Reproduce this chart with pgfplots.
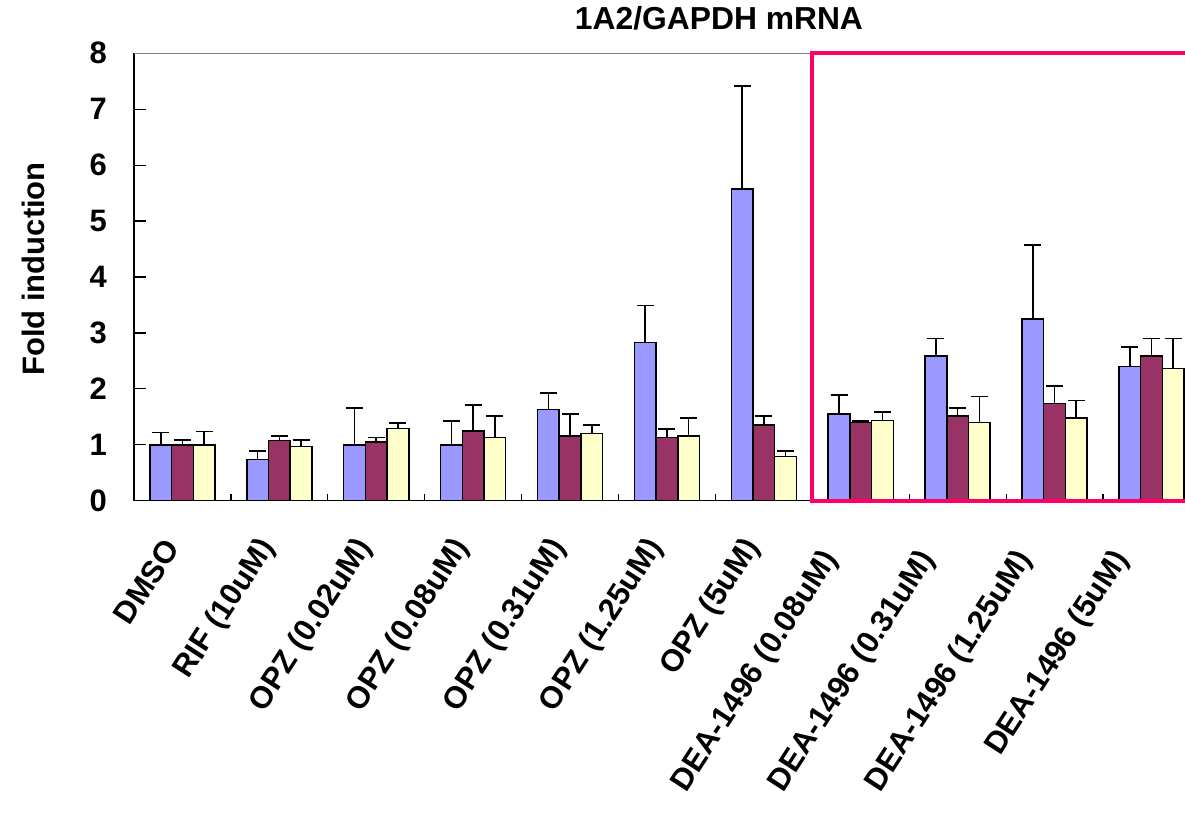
\documentclass[border=0pt]{standalone}
\usepackage{pgfplots}
\pgfplotsset{compat=1.18}
\usepackage{pgfplotstable}
\usepackage{fontspec}
\setmainfont{Liberation Sans}
\definecolor{cblue}{HTML}{9999FF}
\definecolor{cred}{HTML}{993366}
\definecolor{cyel}{HTML}{FFFFCC}
\definecolor{cpink}{HTML}{FF0066}

\pgfplotstableread{
x   b     be    r     re    y     ye
0   1.00  0.22  1.00  0.08  1.00  0.24
1   0.74  0.15  1.08  0.08  0.97  0.11
2   1.00  0.66  1.05  0.08  1.29  0.10
3   1.00  0.43  1.25  0.46  1.13  0.38
4   1.63  0.30  1.16  0.39  1.20  0.15
5   2.83  0.66  1.13  0.15  1.16  0.32
6   5.57  1.85  1.35  0.16  0.79  0.10
7   1.55  0.34  1.40  0.02  1.43  0.16
8   2.59  0.31  1.515 0.145 1.395 0.465
9   3.25  1.32  1.74  0.31  1.48  0.31
10  2.40  0.35  2.59  0.31  2.36  0.54
}\datatable

\begin{document}
\begin{tikzpicture}
\begin{axis}[
  at={(0,0)}, anchor=south west,
  scale only axis, width=525.5pt, height=223.7pt,
  xmin=-0.5, xmax=10.346, ymin=0, ymax=8,
  axis x line*=bottom, axis y line*=left,
  axis line style={-, black, line width=0.6pt},
  clip mode=individual,
  ybar=0pt, bar width=10.85pt,
  tick align=inside,
  ytick={0,1,...,8},
  major tick length=6pt,
  tick style={black, line width=0.6pt},
  xtick={0,1,...,6},
  xticklabels={DMSO,RIF (10uM),OPZ (0.02uM),OPZ (0.08uM),OPZ (0.31uM),OPZ (1.25uM),OPZ (5uM)},
  xtick style={/pgfplots/major tick length=0pt},
  minor xtick={0.5,1.5,...,9.5},
  minor tick length=3.5pt,
  extra x ticks={7,8,9,10},
  extra x tick labels={DEA-1496 (0.08uM),DEA-1496 (0.31uM),DEA-1496 (1.25uM),DEA-1496 (5uM)},
  extra x tick style={major tick length=0pt, tick label style={xshift=-9.2pt, yshift=-6pt}},
  /pgf/number format/assume math mode=true,
  xticklabel style={font=\fontsize{15.5}{18}\selectfont\bfseries, xshift=-3.5pt, yshift=-18pt, rotate=57, anchor=east},
  yticklabel style={font=\fontsize{15.5}{18}\selectfont\bfseries, xshift=-10pt},
  ylabel={Fold induction},
  ylabel style={font=\fontsize{15.5}{18}\selectfont\bfseries, at={(-0.0956,0.518)}, anchor=center},
  title={1A2/GAPDH mRNA},
  title style={font=\fontsize{15.9}{18}\selectfont\bfseries, at={(0.5566,1.0253)}, anchor=base, yshift=0pt},
  error bars/error bar style={line width=0.8pt, black},
  error bars/error mark options={rotate=90, mark size=4.25pt, line width=0.8pt, black},
]
\addplot[fill=cblue, draw=black, line width=0.75pt, error bars/.cd, y dir=plus, y explicit]
  table[x=x, y=b, y error plus=be] {\datatable};
\addplot[fill=cred, draw=black, line width=0.75pt, error bars/.cd, y dir=plus, y explicit]
  table[x=x, y=r, y error plus=re] {\datatable};
\addplot[fill=cyel, draw=black, line width=0.75pt, error bars/.cd, y dir=plus, y explicit]
  table[x=x, y=y, y error plus=ye] {\datatable};
\draw[gray, line width=0.6pt] (axis cs:-0.5,8) -- (axis cs:6.5,8);
\draw[cpink, line width=2pt] (axis cs:10.346,0) -- (axis cs:6.5,0) -- (axis cs:6.5,8) -- (axis cs:10.346,8);
\end{axis}
\pgfresetboundingbox
\path[use as bounding box] (-67pt,-156.15pt) rectangle (525.5pt,250.35pt);
\end{tikzpicture}
\end{document}
